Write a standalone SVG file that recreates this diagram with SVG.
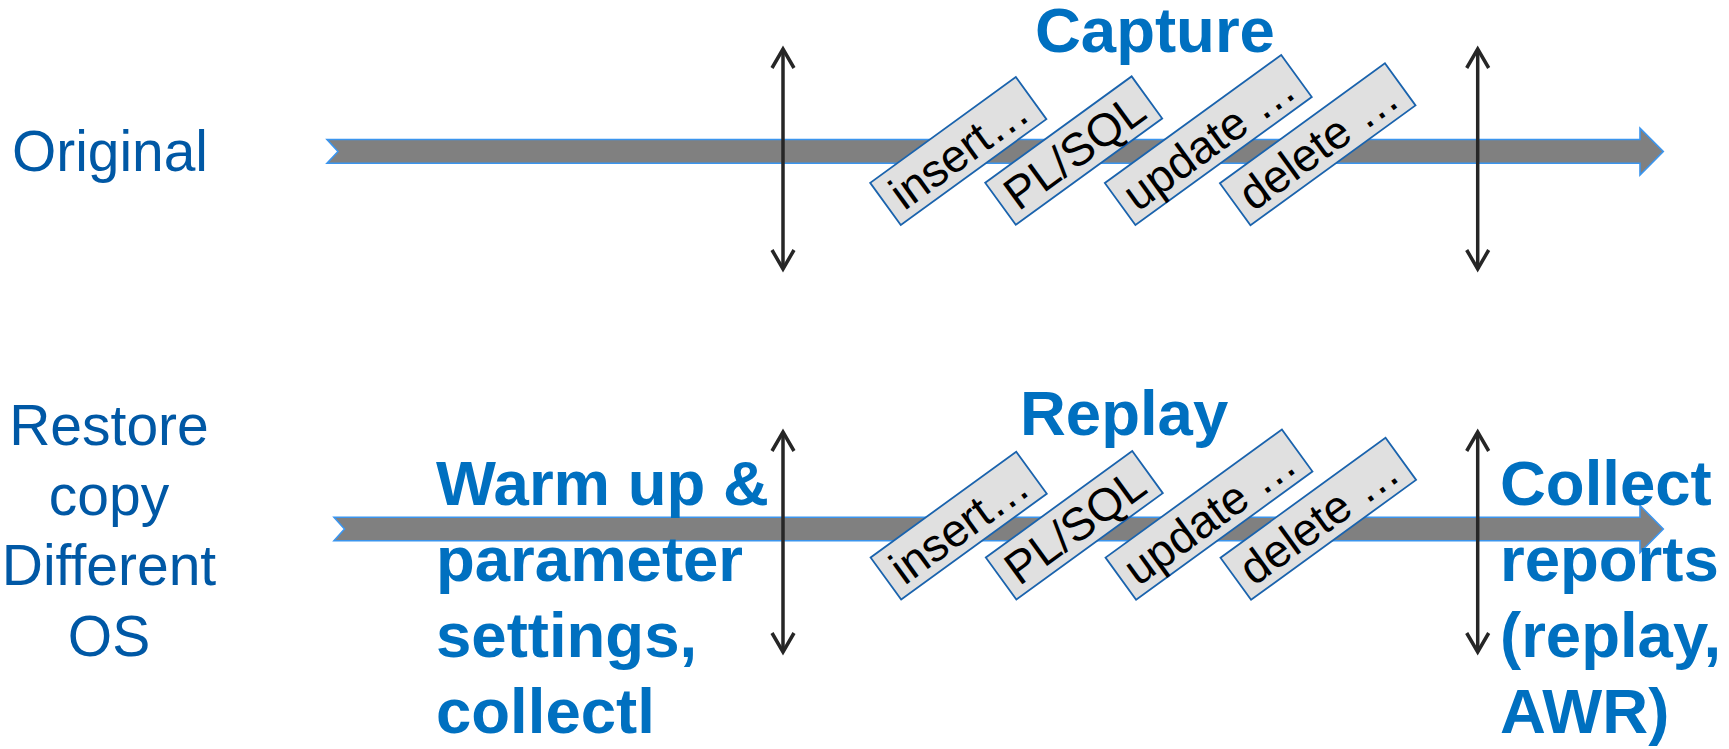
<svg xmlns="http://www.w3.org/2000/svg" width="1729" height="749" viewBox="0 0 1729 749">
<style>
.band{fill:#808080;stroke:#3b95ee;stroke-width:1.6}
.vline{stroke:#262626;stroke-width:3.5;fill:none}
.box rect{fill:#e0e0e0;stroke:#1a63ad;stroke-width:1.8}
.box text{font-family:"Liberation Sans",Arial,sans-serif;font-size:46px;fill:#000;text-anchor:middle}
.lbl{font-family:"Liberation Sans",Arial,sans-serif;font-size:57px;fill:#0058a5}
.big{font-family:"Liberation Sans",Arial,sans-serif;font-size:63.5px;font-weight:bold;fill:#0070c0}
</style>
<defs>
<marker id="chev" markerUnits="userSpaceOnUse" viewBox="-22 -14 26 28" refX="0" refY="0" markerWidth="26" markerHeight="28" orient="auto-start-reverse">
<path d="M-19,-11 L0,0 L-19,11" fill="none" stroke="#262626" stroke-width="3.5"/>
</marker>
</defs>
<rect width="1729" height="749" fill="#fff"/>

<g id="timeline-original">
<path class="band" d="M327,139.5 L1640,139.5 L1640,128.3 L1663.3,151.5 L1640,175 L1640,163.3 L327,163.3 L338,151.5 Z"/>
</g>
<g id="timeline-replay">
<path class="band" d="M334,517.3 L1640,517.3 L1640,505.5 L1663.3,529 L1640,552.5 L1640,540.7 L334,540.7 L344.5,529 Z"/>
</g>

<g id="capture-insert" class="box" transform="translate(958.3,151) rotate(-36)"><rect x="-90" y="-26" width="180" height="52"/><text x="0" y="17">insert…</text></g>
<g id="capture-plsql" class="box" transform="translate(1073.7,150.6) rotate(-36)"><rect x="-90.5" y="-26" width="181" height="52"/><text x="0" y="17">PL/SQL</text></g>
<g id="capture-update" class="box" transform="translate(1208.3,140) rotate(-36)"><rect x="-109" y="-26" width="218" height="52"/><text x="0" y="17">update …</text></g>
<g id="capture-delete" class="box" transform="translate(1317.7,144.3) rotate(-36)"><rect x="-102" y="-26" width="204" height="52"/><text x="0" y="17">delete …</text></g>

<g id="replay-insert" class="box" transform="translate(958.7,525.6) rotate(-36)"><rect x="-90" y="-26" width="180" height="52"/><text x="0" y="17">insert…</text></g>
<g id="replay-plsql" class="box" transform="translate(1074.3,525.3) rotate(-36)"><rect x="-90.5" y="-26" width="181" height="52"/><text x="0" y="17">PL/SQL</text></g>
<g id="replay-update" class="box" transform="translate(1209,514.6) rotate(-36)"><rect x="-109" y="-26" width="218" height="52"/><text x="0" y="17">update …</text></g>
<g id="replay-delete" class="box" transform="translate(1318.3,518.8) rotate(-36)"><rect x="-102" y="-26" width="204" height="52"/><text x="0" y="17">delete …</text></g>

<g id="connectors">
<line class="vline" x1="783" y1="49" x2="783" y2="269" marker-start="url(#chev)" marker-end="url(#chev)"/>
<line class="vline" x1="1477.7" y1="49" x2="1477.7" y2="269" marker-start="url(#chev)" marker-end="url(#chev)"/>
<line class="vline" x1="783" y1="432" x2="783" y2="652" marker-start="url(#chev)" marker-end="url(#chev)"/>
<line class="vline" x1="1477.7" y1="432" x2="1477.7" y2="652" marker-start="url(#chev)" marker-end="url(#chev)"/>
</g>

<g id="label-original"><text class="lbl" x="12" y="171" font-size="59" textLength="196" lengthAdjust="spacingAndGlyphs">Original</text></g>
<g id="label-restore">
<text class="lbl" text-anchor="middle" x="109" y="445">Restore</text>
<text class="lbl" text-anchor="middle" x="109" y="515">copy</text>
<text class="lbl" text-anchor="middle" x="109" y="585">Different</text>
<text class="lbl" text-anchor="middle" x="109" y="656">OS</text>
</g>
<g id="label-capture"><text class="big" x="1035" y="52">Capture</text></g>
<g id="label-replay"><text class="big" x="1020" y="435">Replay</text></g>
<g id="label-warmup">
<text class="big" x="436" y="505">Warm up &amp;</text>
<text class="big" x="436" y="581">parameter</text>
<text class="big" x="436" y="657">settings,</text>
<text class="big" x="436" y="733">collectl</text>
</g>
<g id="label-collect">
<text class="big" x="1500" y="505">Collect</text>
<text class="big" x="1500" y="581">reports</text>
<text class="big" x="1500" y="657">(replay,</text>
<text class="big" x="1500" y="733">AWR)</text>
</g>
</svg>
